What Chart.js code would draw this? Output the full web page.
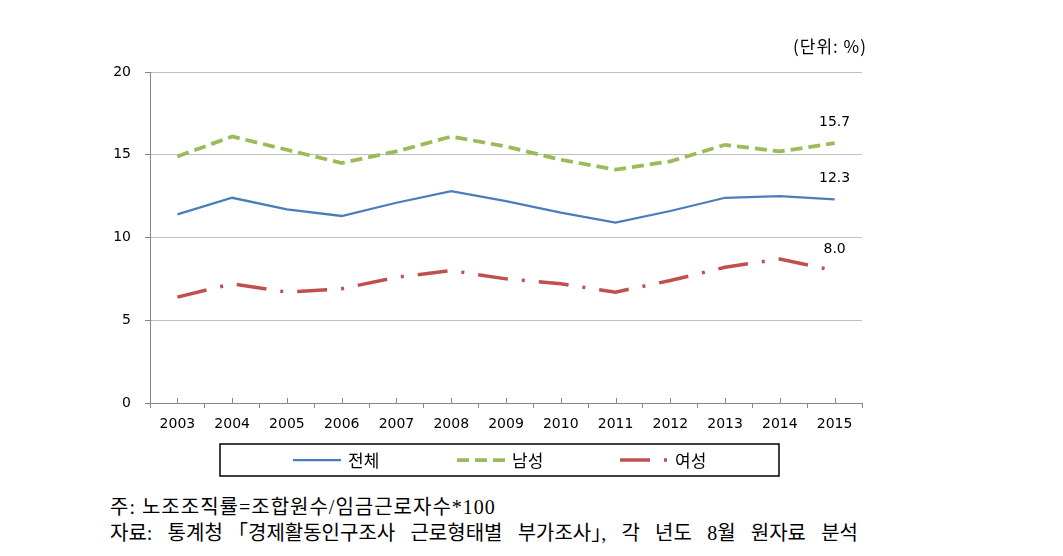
<!DOCTYPE html>
<html><head><meta charset="utf-8">
<script src="https://cdn.jsdelivr.net/npm/chart.js@4.4.0/dist/chart.umd.min.js"></script>
<style>
html,body{margin:0;padding:0;background:#fff;width:1063px;height:556px;overflow:hidden;}
#wrap{position:absolute;left:0;top:0;width:1063px;height:490px;}
.unit{position:absolute;right:196px;top:35px;font-size:17px;letter-spacing:1px;font-family:"Noto Sans CJK KR","Noto Sans",sans-serif;color:#000;line-height:22px;}
.note{position:absolute;left:110px;font-family:"Liberation Serif","Noto Sans CJK KR",serif;font-size:20px;color:#000;line-height:27px;white-space:nowrap;}
#n1{top:494px;letter-spacing:1px;}
#n2{top:520px;}
</style></head>
<body>
<div id="wrap"><canvas id="c" width="1063" height="490"></canvas></div>
<div class="unit">(단위: %)</div>
<div class="note" id="n1">주: 노조조직률=조합원수/임금근로자수*100</div>
<div class="note" id="n2">자료: 통계청 ｢경제활동인구조사 근로형태별 부가조사｣, 각 년도 8월 원자료 분석</div>
<script>
const years = ['2003','2004','2005','2006','2007','2008','2009','2010','2011','2012','2013','2014','2015'];
const total = [11.4, 12.4, 11.7, 11.3, 12.1, 12.8, 12.2, 11.5, 10.9, 11.6, 12.4, 12.5, 12.3];
const male = [14.9, 16.1, 15.3, 14.5, 15.2, 16.1, 15.5, 14.7, 14.1, 14.6, 15.6, 15.2, 15.7];
const female = [6.4, 7.2, 6.7, 6.9, 7.6, 8.0, 7.5, 7.2, 6.7, 7.4, 8.2, 8.7, 8.0];
const seriesNames = ['전체', '남성', '여성'];
const yMin = 0, yMax = 20, yStep = 5;

// stretch the source note to its reference width via word spacing
(function () {
  const n2 = document.getElementById('n2');
  const w = n2.getBoundingClientRect().width;
  const spaces = (n2.textContent.match(/ /g) || []).length;
  if (spaces) n2.style.wordSpacing = Math.max(0, (748 - w) / spaces) + 'px';
})();

Chart.defaults.font.family = '"DejaVu Sans", sans-serif';
Chart.defaults.font.size = 14;
Chart.defaults.color = '#000';

const centerTicks = {
  id: 'centerTicks',
  afterDraw(chart) {
    const xs = chart.scales.x, ctx = chart.ctx;
    ctx.save();
    ctx.strokeStyle = '#868686';
    ctx.lineWidth = 1;
    ctx.beginPath();
    for (let i = 0; i < years.length; i++) {
      const x = Math.round(xs.getPixelForValue(i)) + 0.5;
      ctx.moveTo(x, xs.top);
      ctx.lineTo(x, xs.top - 5);
    }
    ctx.stroke();
    ctx.restore();
  }
};

const endLabels = {
  id: 'endLabels',
  afterDatasetsDraw(chart) {
    const ctx = chart.ctx;
    ctx.save();
    ctx.font = '14px "DejaVu Sans", sans-serif';
    ctx.fillStyle = '#000';
    ctx.textAlign = 'center';
    ctx.textBaseline = 'middle';
    chart.data.datasets.forEach((ds, i) => {
      const meta = chart.getDatasetMeta(i);
      const last = meta.data.length - 1;
      const pt = meta.data[last];
      ctx.fillText(ds.data[last].toFixed(1), pt.x, pt.y - 21);
    });
    ctx.restore();
  }
};

const boxLegend = {
  id: 'boxLegend',
  afterDraw(chart) {
    const ctx = chart.ctx, ca = chart.chartArea;
    const left = ca.left + 70, top = ca.bottom + 41, w = 559, h = 32;
    ctx.save();
    ctx.strokeStyle = '#000';
    ctx.lineWidth = 1.5;
    ctx.strokeRect(left, top, w, h);
    const cy = top + h / 2;
    const starts = [73, 237, 400];
    ctx.font = '17px "Noto Sans CJK KR", sans-serif';
    ctx.textBaseline = 'middle';
    ctx.textAlign = 'left';
    chart.data.datasets.forEach((ds, i) => {
      const x0 = left + starts[i];
      ctx.save();
      ctx.strokeStyle = ds.borderColor;
      ctx.lineWidth = ds.borderWidth;
      ctx.setLineDash(ds.borderDash || []);
      ctx.lineCap = 'butt';
      ctx.beginPath();
      ctx.moveTo(x0, cy);
      ctx.lineTo(x0 + 48, cy);
      ctx.stroke();
      ctx.restore();
      ctx.fillStyle = '#000';
      ctx.fillText(ds.label, x0 + 55, cy + 1);
    });
    ctx.restore();
  }
};

new Chart(document.getElementById('c'), {
  type: 'line',
  data: {
    labels: years,
    datasets: [
      { label: seriesNames[0], data: total, borderColor: '#4a7ebb', borderWidth: 2.25, pointRadius: 0, tension: 0, fill: false },
      { label: seriesNames[1], data: male, borderColor: '#9bbb59', borderWidth: 3.75, borderDash: [12, 6], pointRadius: 0, tension: 0, fill: false },
      { label: seriesNames[2], data: female, borderColor: '#c0504d', borderWidth: 3.5, borderDash: [30, 14, 3, 14], pointRadius: 0, tension: 0, fill: false }
    ]
  },
  options: {
    responsive: false,
    animation: false,
    events: [],
    layout: { padding: { left: 100, right: 201, top: 72, bottom: 52 } },
    plugins: { legend: { display: false }, tooltip: { enabled: false } },
    scales: {
      x: {
        offset: true,
        afterFit(s) { s.height = 35; },
        grid: { offset: true, drawOnChartArea: false, drawTicks: true, tickLength: 5, tickColor: '#868686' },
        border: { display: true, color: '#868686', width: 1 },
        ticks: { padding: 8, maxRotation: 0, autoSkip: false, color: '#000', font: { size: 14 } }
      },
      y: {
        min: yMin, max: yMax,
        afterFit(s) { s.width = 50; },
        grid: { color: '#bfbfbf', tickColor: '#868686', tickLength: 5 },
        border: { display: true, color: '#868686', width: 1 },
        ticks: { stepSize: yStep, padding: 14, color: '#000', font: { size: 14 } }
      }
    }
  },
  plugins: [centerTicks, endLabels, boxLegend]
});
</script>
</body></html>
